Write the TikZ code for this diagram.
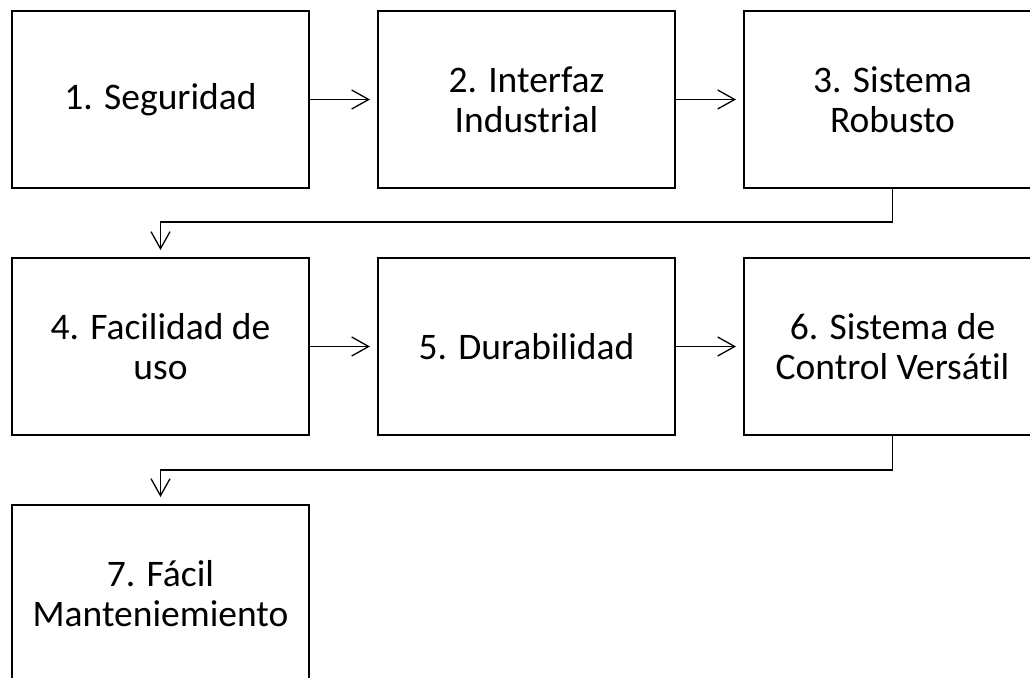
\documentclass[tikz,border=0pt]{standalone}
\usepackage{fontspec}
\setmainfont{Carlito}[Ligatures=NoCommon]
\usetikzlibrary{positioning,arrows.meta}

\begin{document}
\begin{tikzpicture}[x=1pt,y=-1pt,
		caja/.style={draw,line width=2.6pt,minimum width=297pt,minimum height=177pt,inner sep=0pt,outer sep=0pt,align=center,font=\fontsize{37.5}{40}\selectfont},
		flecha/.style={line width=1.3pt,-{Straight Barb[length=17pt,width=19pt]},shorten >=8pt}]
				\useasboundingbox (0,0) rectangle (1030,677);
				\node [caja] (seg) at (160.5,99.5) {1. Seguridad};
				\node [caja, right = 69pt of seg] (int) {2. Interfaz\\Industrial};
				\node [caja, right = 69pt of int] (rob) {3. Sistema\\Robusto};
				\node [caja, below = 70pt of seg] (fac) {4. Facilidad de\\uso};
				\node [caja, right = 69pt of fac] (dur) {5. Durabilidad};
				\node [caja, right = 69pt of dur] (ctl) {6. Sistema de\\Control Vers\'atil};
				\node [caja, below = 70pt of fac] (man) {7. F\'acil\\Manteniemiento};
				\draw [flecha] (seg) -- (int);             \draw [flecha] (int) -- (rob);
				\draw [flecha] (fac) -- (dur);             \draw [flecha] (dur) -- (ctl);
				\draw [flecha] (rob.south) -- ++(0,34) -| (fac.north);
				\draw [flecha] (ctl.south) -- ++(0,35) -| (man.north);
			\end{tikzpicture}
\end{document}
